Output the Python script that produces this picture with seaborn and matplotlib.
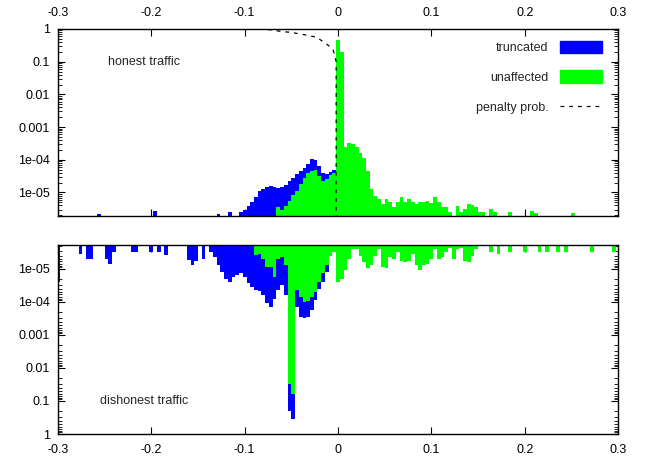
import numpy as np
import seaborn as sns
import matplotlib.pyplot as plt
from matplotlib.patches import Patch
from matplotlib.lines import Line2D
from matplotlib.ticker import LogLocator, FixedLocator, FixedFormatter, NullFormatter

# histogram bins: centres on multiples of 0.004, heights stored as log10(fraction)
# honest traffic, truncated (drawn as the full envelope behind the green)
honest_truncated = [
    (-0.256, -5.65), (-0.196, -5.58), (-0.128, -5.65), (-0.116, -5.6), (-0.104, -5.6),
    (-0.100, -5.55), (-0.096, -5.4), (-0.092, -5.3), (-0.088, -5.15), (-0.084, -4.97),
    (-0.080, -4.88), (-0.076, -4.82), (-0.072, -4.8), (-0.068, -4.84), (-0.064, -4.86),
    (-0.060, -4.82), (-0.056, -4.76), (-0.052, -4.65), (-0.048, -4.55), (-0.044, -4.45),
    (-0.040, -4.35), (-0.036, -4.25), (-0.032, -4.12), (-0.028, -3.97), (-0.024, -4.02),
    (-0.020, -4.2), (-0.016, -4.4), (-0.012, -4.45), (-0.008, -4.38), (-0.004, -4.3),
]
# honest traffic, unaffected
honest_unaffected = [
    (-0.064, -5.45), (-0.060, -5.55), (-0.056, -5.4), (-0.052, -5.25), (-0.048, -5.08),
    (-0.044, -4.95), (-0.040, -4.75), (-0.036, -4.55), (-0.032, -4.42), (-0.028, -4.33),
    (-0.024, -4.32), (-0.020, -4.5), (-0.016, -4.65), (-0.012, -4.6), (-0.008, -4.48),
    (-0.004, -4.4), (0.000, -0.35), (0.004, -0.7), (0.008, -3.6), (0.012, -3.5),
    (0.016, -3.52), (0.020, -3.62), (0.024, -3.78), (0.028, -3.95), (0.032, -4.35),
    (0.036, -4.9), (0.040, -5.1), (0.044, -5.2), (0.048, -5.35), (0.052, -5.2),
    (0.056, -5.3), (0.060, -5.45), (0.064, -5.3), (0.068, -5.15), (0.072, -5.3),
    (0.076, -5.2), (0.080, -5.3), (0.084, -5.35), (0.088, -5.28), (0.092, -5.3),
    (0.096, -5.25), (0.100, -5.32), (0.104, -5.15), (0.108, -5.3), (0.112, -5.45),
    (0.116, -5.45), (0.120, -5.6), (0.128, -5.42), (0.132, -5.6), (0.136, -5.5),
    (0.140, -5.35), (0.144, -5.38), (0.148, -5.45), (0.152, -5.6), (0.156, -5.6),
    (0.164, -5.5), (0.168, -5.6), (0.184, -5.6), (0.208, -5.58), (0.212, -5.62),
    (0.252, -5.62),
]
# dishonest traffic, truncated (envelope)
dishonest_truncated = [
    (-0.300, -4.6), (-0.276, -5.45), (-0.268, -5.3), (-0.264, -5.3), (-0.248, -5.3),
    (-0.244, -5.15), (-0.240, -5.5), (-0.220, -5.5), (-0.216, -5.5), (-0.200, -5.5),
    (-0.192, -5.5), (-0.184, -5.42), (-0.160, -5.27), (-0.156, -5.12), (-0.152, -5.25),
    (-0.144, -5.3), (-0.136, -5.5), (-0.132, -5.35), (-0.128, -5.1), (-0.124, -4.9),
    (-0.120, -4.7), (-0.116, -4.6), (-0.112, -4.75), (-0.108, -4.82), (-0.104, -4.88),
    (-0.100, -4.75), (-0.096, -4.58), (-0.092, -4.45), (-0.088, -4.36), (-0.084, -4.33),
    (-0.080, -4.2), (-0.076, -3.95), (-0.072, -3.85), (-0.068, -4.1), (-0.064, -4.36),
    (-0.060, -4.5), (-0.056, -4.2), (-0.052, -0.7), (-0.048, -0.45), (-0.044, -3.85),
    (-0.040, -3.55), (-0.036, -3.5), (-0.032, -3.55), (-0.028, -3.75), (-0.024, -4.06),
    (-0.020, -4.4), (-0.016, -4.6), (-0.012, -4.9), (-0.008, -5.4), (-0.004, -5.5),
]
# dishonest traffic, unaffected
dishonest_unaffected = [
    (-0.088, -5.42), (-0.084, -5.45), (-0.080, -5.3), (-0.076, -5.06), (-0.072, -5.06),
    (-0.068, -4.76), (-0.064, -5.3), (-0.060, -5.35), (-0.056, -5.1), (-0.052, -1.5),
    (-0.048, -1.2), (-0.044, -4.36), (-0.040, -4.15), (-0.036, -4.0), (-0.032, -4.02),
    (-0.028, -4.15), (-0.024, -4.3), (-0.020, -4.6), (-0.016, -4.88), (-0.012, -5.1),
    (-0.008, -5.4), (-0.004, -5.5), (0.000, -4.6), (0.004, -4.7), (0.008, -4.95),
    (0.012, -5.3), (0.016, -5.6), (0.020, -5.6), (0.024, -5.4), (0.028, -5.2),
    (0.032, -5.03), (0.036, -5.1), (0.040, -5.4), (0.044, -5.6), (0.048, -5.05),
    (0.052, -5.03), (0.056, -5.35), (0.060, -5.3), (0.064, -5.5), (0.068, -5.25),
    (0.072, -5.2), (0.076, -5.25), (0.080, -5.45), (0.084, -5.1), (0.088, -4.97),
    (0.092, -5.1), (0.096, -5.15), (0.100, -5.3), (0.104, -5.6), (0.108, -5.3),
    (0.112, -5.35), (0.116, -5.52), (0.120, -5.62), (0.124, -5.3), (0.128, -5.6),
    (0.132, -5.62), (0.136, -5.25), (0.140, -5.2), (0.144, -5.4), (0.148, -5.6),
    (0.164, -5.52), (0.172, -5.45), (0.184, -5.52), (0.200, -5.52),
    (0.216, -5.52), (0.224, -5.52), (0.236, -5.52), (0.244, -5.52), (0.272, -5.52),
    (0.296, -5.52),
]
# penalty probability curve
penalty_x = [-0.30, -0.10, -0.08, -0.07, -0.06, -0.05, -0.045, -0.035, -0.023,
             -0.016, -0.008, -0.005, -0.002, -0.002]
penalty_p = [1.0, 1.0, 0.98, 0.93, 0.83, 0.79, 0.74, 0.66, 0.56,
             0.41, 0.28, 0.22, 0.1, 0.0]

x_ticks = [-0.3, -0.2, -0.1, 0, 0.1, 0.2, 0.3]
x_labels = ['-0.3', '-0.2', '-0.1', '0', '0.1', '0.2', '0.3']
y_ticks = [1, 0.1, 0.01, 0.001, 1e-4, 1e-5]
y_labels = ['1', '0.1', '0.01', '0.001', '1e-04', '1e-05']

BLUE = '#0000ff'
GREEN = '#00ff00'

sns.set_theme(style='white')
plt.rcParams['font.family'] = ['Liberation Sans', 'DejaVu Sans']
plt.rcParams['font.size'] = 9

edges = [round(-0.302 + 0.004 * i, 4) for i in range(152)]


def hist(ax, data, color):
    xs = [p[0] for p in data]
    w = [10.0 ** p[1] for p in data]
    sns.histplot(x=xs, weights=w, bins=edges, element='step', fill=True,
                 color=color, alpha=1, linewidth=0, ax=ax)


def style(ax, top):
    ax.set_yscale('log')
    ax.set_xlim(-0.3, 0.3)
    ax.set_ylim(10 ** -5.72, 1)
    ax.set_xlabel('')
    ax.set_ylabel('')
    ax.xaxis.set_major_locator(FixedLocator(x_ticks))
    ax.xaxis.set_major_formatter(FixedFormatter(x_labels))
    ax.yaxis.set_major_locator(FixedLocator(y_ticks))
    ax.yaxis.set_major_formatter(FixedFormatter(y_labels))
    ax.yaxis.set_minor_locator(LogLocator(base=10, subs=range(2, 10)))
    ax.yaxis.set_minor_formatter(NullFormatter())
    ax.tick_params(which='both', direction='in', top=True, right=True,
                   bottom=True, left=True, colors='black', labelsize=9)
    ax.tick_params(which='major', length=5, width=0.8)
    ax.tick_params(which='minor', length=3, width=0.6)
    ax.tick_params(axis='x', labeltop=top, labelbottom=not top, pad=7)
    ax.tick_params(axis='y', pad=6)
    for s in ax.spines.values():
        s.set_color('black')
        s.set_linewidth(1.0)


fig = plt.figure(figsize=(6.46, 4.58), dpi=100)
ax1 = fig.add_axes([0.0898, 0.5284, 0.8669, 0.4083])
ax2 = fig.add_axes([0.0898, 0.0524, 0.8669, 0.4127])

hist(ax1, honest_truncated, BLUE)
hist(ax1, honest_unaffected, GREEN)
sns.lineplot(x=penalty_x, y=penalty_p, color='black', linewidth=0.9,
             linestyle=(0, (3, 4)), sort=False, estimator=None, ax=ax1)
style(ax1, True)
ax1.text(-0.246, 0.1, 'honest traffic', va='center', ha='left', fontsize=9)

handles = [Patch(facecolor=BLUE, edgecolor=BLUE),
           Patch(facecolor=GREEN, edgecolor=GREEN),
           Line2D([0], [0], color='black', linewidth=0.9, linestyle=(0, (3, 4)))]
ax1.legend(handles, ['truncated', 'unaffected', 'penalty prob.'], loc='upper right',
           markerfirst=False, frameon=False, handlelength=3.4, handleheight=1.2,
           labelspacing=1.3, handletextpad=0.9, fontsize=9,
           bbox_to_anchor=(0.992, 0.998))

hist(ax2, dishonest_truncated, BLUE)
hist(ax2, dishonest_unaffected, GREEN)
style(ax2, False)
ax2.invert_yaxis()
ax2.text(-0.255, 0.1, 'dishonest traffic', va='center', ha='left', fontsize=9)

fig.savefig('out.png', dpi=100)
